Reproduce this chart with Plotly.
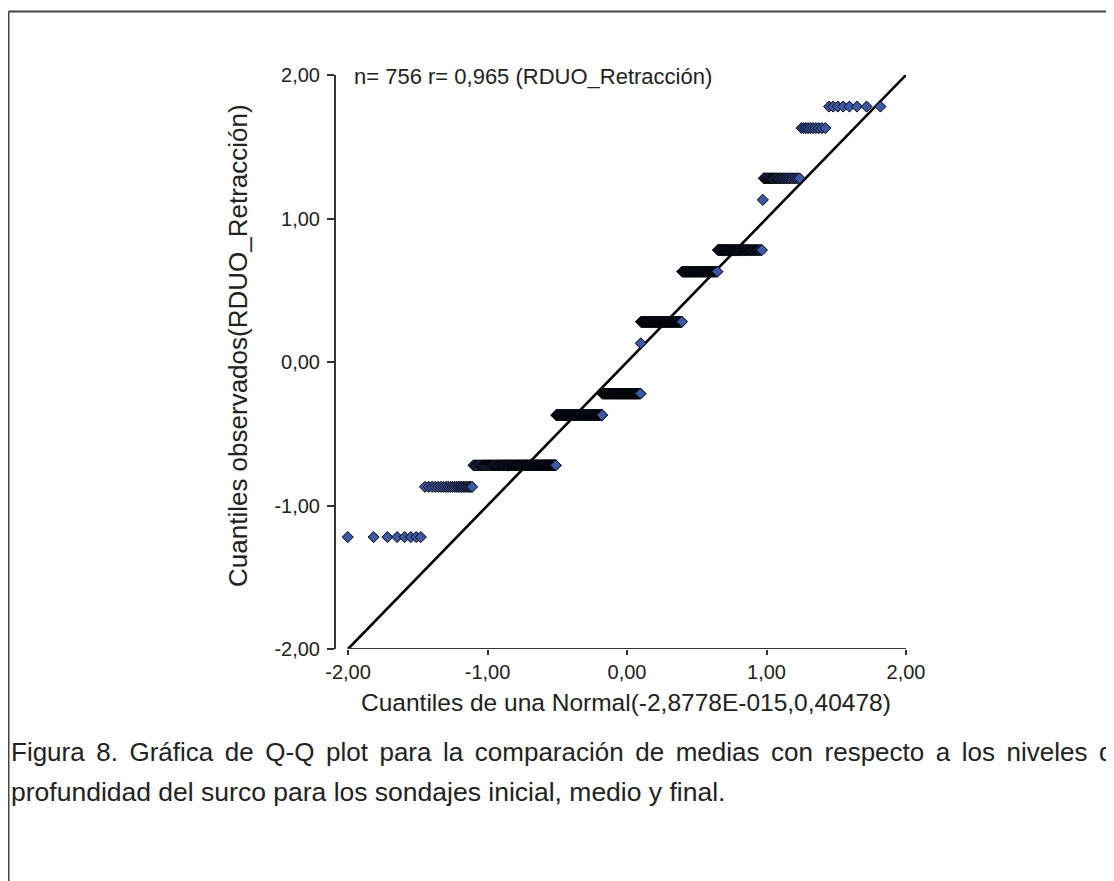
import math
from statistics import NormalDist
import plotly.graph_objects as go

# ---- data ----
obs_levels = [-1.22, -0.87, -0.72, -0.37, -0.22, 0.13, 0.28, 0.63, 0.78, 1.13, 1.28, 1.63, 1.78]
obs_counts = [8, 23, 129, 135, 129, 1, 129, 86, 68, 1, 28, 10, 9]
norm_mean = -2.8778e-15
norm_var = 0.40478
ref_line_x = [-2.0, 2.0]
ref_line_y = [-2.0, 2.0]
tick_vals = [-2, -1, 0, 1, 2]
tick_text = ["-2,00", "-1,00", "0,00", "1,00", "2,00"]
info_text = "n= 756 r= 0,965 (RDUO_Retracción)"
x_title = "Cuantiles de una Normal(-2,8778E-015,0,40478)"
y_title = "Cuantiles observados(RDUO_Retracción)"
caption_1 = "Figura 8. Gráfica de Q-Q plot para la comparación de medias con respecto a los niveles de"
caption_2 = "profundidad del surco para los sondajes inicial, medio y final."

# sorted observed sample and its theoretical normal quantiles (Q-Q transform)
y_obs = []
for lv, c in zip(obs_levels, obs_counts):
    y_obs.extend([lv] * c)
n = len(y_obs)
nd = NormalDist(norm_mean, math.sqrt(norm_var))
x_theo = [nd.inv_cdf((i + 1 - 0.375) / (n + 0.25)) for i in range(n)]

FONT = "Liberation Sans, Arial, sans-serif"
TXT = "#222222"

OFF = 8  # page body margin of the html page
W, H = 1114, 881
L = 336 - OFF
T = 75 - OFF
B = H - (649 - OFF)
R = W - (906 - OFF)
pw, ph = W - L - R, H - T - B
x_lo = -2 - (348 - 336) / 139.25


def fx(page_x):
    return (page_x - OFF - L) / pw


def fy(page_y):
    return (H - B - (page_y - OFF)) / ph


fig = go.Figure()
fig.add_trace(go.Scatter(
    x=ref_line_x, y=ref_line_y, mode="lines",
    line=dict(color="black", width=2.6), hoverinfo="skip", showlegend=False,
))
fig.add_trace(go.Scatter(
    x=x_theo, y=y_obs, mode="markers", cliponaxis=False,
    marker=dict(symbol="diamond", size=8.5, color="#3a5aa8",
                line=dict(color="black", width=1)),
    showlegend=False,
))

shapes = [
    dict(type="line", xref="x", yref="y", x0=-2, x1=2, y0=-2, y1=-2,
         line=dict(color="#333333", width=2)),
    dict(type="line", xref="paper", yref="paper",
         x0=fx(8.5), x1=fx(1130), y0=fy(11.5), y1=fy(11.5),
         line=dict(color="#444444", width=2)),
    dict(type="line", xref="paper", yref="paper",
         x0=fx(8.5), x1=fx(8.5), y0=fy(11.5), y1=fy(900),
         line=dict(color="#444444", width=2)),
]


def caption_justify(s):
    return s.replace(" ", " \u2006")


annotations = [
    dict(text=info_text, xref="paper", yref="paper", x=fx(352), y=fy(77),
         xanchor="left", yanchor="middle", showarrow=False,
         font=dict(family=FONT, size=22, color=TXT)),
    dict(text=x_title, xref="paper", yref="paper", x=fx(626), y=fy(702),
         xanchor="center", yanchor="middle", showarrow=False,
         font=dict(family=FONT, size=24.5, color=TXT)),
    dict(text=y_title, xref="paper", yref="paper", x=fx(238), y=fy(346),
         xanchor="center", yanchor="middle", showarrow=False, textangle=-90,
         font=dict(family=FONT, size=26, color=TXT)),
    dict(text=caption_justify(caption_1), xref="paper", yref="paper",
         x=fx(9), y=fy(752),
         xanchor="left", yanchor="middle", showarrow=False,
         font=dict(family=FONT, size=26, color=TXT)),
    dict(text=caption_2, xref="paper", yref="paper",
         x=fx(9), y=fy(792),
         xanchor="left", yanchor="middle", showarrow=False,
         font=dict(family=FONT, size=26.5, color=TXT)),
]

fig.update_layout(
    width=W, height=H,
    margin=dict(l=L, r=R, t=T, b=B, pad=0),
    paper_bgcolor="white", plot_bgcolor="white",
    shapes=shapes, annotations=annotations,
    font=dict(family=FONT, color=TXT),
    xaxis=dict(
        range=[x_lo, 2.0], showgrid=False, zeroline=False, showline=False,
        tickmode="array", tickvals=tick_vals, ticktext=tick_text,
        ticks="outside", ticklen=5, tickwidth=2, tickcolor="#333333",
        ticklabelstandoff=0,
        tickfont=dict(family=FONT, size=20, color=TXT),
    ),
    yaxis=dict(
        range=[-2.0, 2.0], showgrid=False, zeroline=False,
        showline=True, linecolor="#333333", linewidth=2,
        tickmode="array", tickvals=tick_vals, ticktext=tick_text,
        ticks="outside", ticklen=7, tickwidth=2, tickcolor="#333333",
        ticklabelstandoff=3,
        tickfont=dict(family=FONT, size=20, color=TXT),
    ),
)

fig.write_html("out.html")
